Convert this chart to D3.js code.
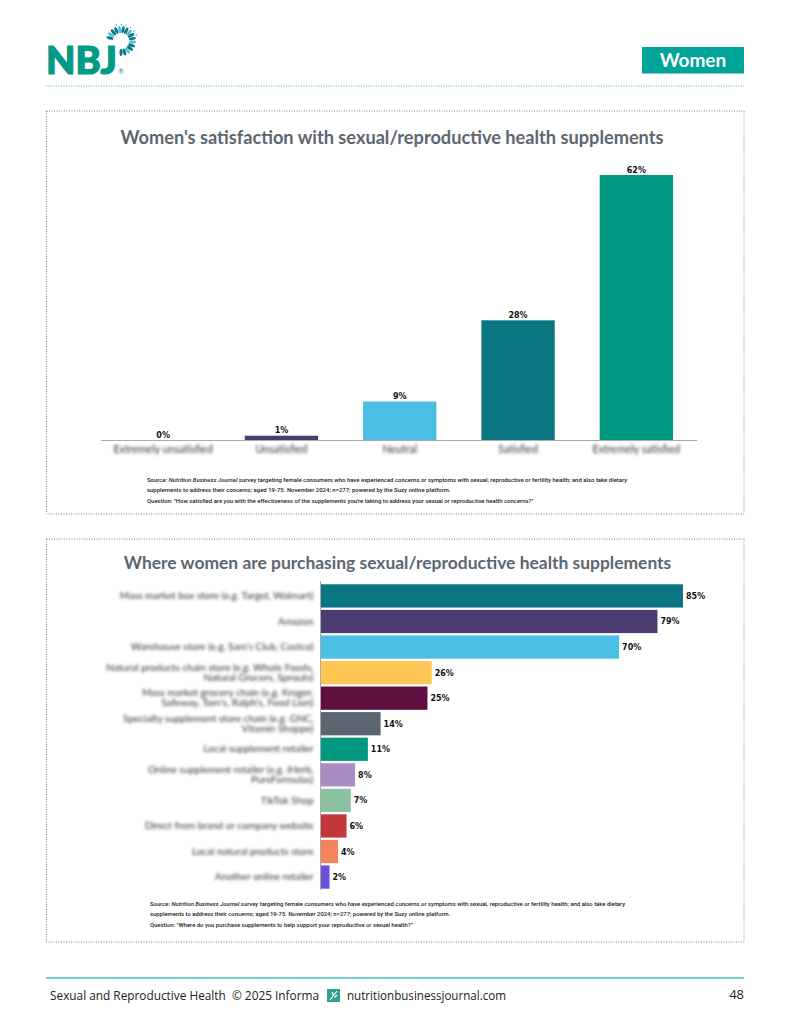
<!DOCTYPE html>
<html>
<head>
<meta charset="utf-8">
<script src="https://cdn.jsdelivr.net/npm/d3@7"></script>
<style>
html, body { margin: 0; padding: 0; background: #fff; }
svg { display: block; }
</style>
</head>
<body>
<div id="page"></div>
<script>
const satisfactionLabels = ['Extremely unsatisfied', 'Unsatisfied', 'Neutral', 'Satisfied', 'Extremely satisfied'];
const satisfactionValues = [0, 1, 9, 28, 62];
const satisfactionColors = ['#4b3b70', '#4b3b70', '#4abfe3', '#0a7682', '#009880'];

const purchaseLabels = [
  'Mass market box store (e.g. Target, Walmart)',
  'Amazon',
  "Warehouse store (e.g. Sam's Club, Costco)",
  'Natural products chain store (e.g. Whole Foods,|Natural Grocers, Sprouts)',
  "Mass market grocery chain (e.g. Kroger,|Safeway, Tom's, Ralph's, Food Lion)",
  'Specialty supplement store chain (e.g. GNC,|Vitamin Shoppe)',
  'Local supplement retailer',
  'Online supplement retailer (e.g. iHerb,|PureFormulas)',
  'TikTok Shop',
  'Direct from brand or company website',
  'Local natural products store',
  'Another online retailer'
];
const purchaseValues = [85, 79, 70, 26, 25, 14, 11, 8, 7, 6, 4, 2];
const purchaseColors = ['#0a7682', '#4b3b70', '#4abfe3', '#fec655', '#5e0f3d', '#5c6670', '#009880', '#a98cc2', '#8cc1a2', '#c2373c', '#f4845c', '#6a4fd8'];

const sourceTop = [
  ['Source: ', 'Nutrition Business Journal', ' survey targeting female consumers who have experienced concerns or symptoms with sexual, reproductive or fertility health; and also take dietary'],
  ['supplements to address their concerns; aged 19-75. November 2024; n=277; powered by the Suzy online platform.'],
  ['Question: "How satisfied are you with the effectiveness of the supplements you\'re taking to address your sexual or reproductive health concerns?"']
];
const sourceBottom = [
  ['Source: ', 'Nutrition Business Journal', ' survey targeting female consumers who have experienced concerns or symptoms with sexual, reproductive or fertility health; and also take dietary'],
  ['supplements to address their concerns; aged 19-75. November 2024; n=277; powered by the Suzy online platform.'],
  ['Question: "Where do you purchase supplements to help support your reproductive or sexual health?"']
];

const svg = d3.select('#page').append('svg').attr('width', 791).attr('height', 1024);
const defs = svg.append('defs');
defs.append('filter').attr('id', 'blur').attr('x', '-10%').attr('y', '-60%').attr('width', '120%').attr('height', '220%')
  .append('feGaussianBlur').attr('stdDeviation', 1.45);

svg.append('rect').attr('width', 791).attr('height', 1024).attr('fill', '#fff');

// header
const teal = '#00a398';
svg.append('text').attr('x', 46).attr('y', 74).attr('font-family', 'Lato, sans-serif').attr('font-weight', 900)
  .attr('font-size', 38).attr('fill', '#009a86').attr('stroke', '#009a86').attr('stroke-width', 1.2)
  .attr('textLength', 71).attr('lengthAdjust', 'spacingAndGlyphs').text('NBJ');
svg.append('text').attr('x', 118).attr('y', 74).attr('font-family', 'Lato, sans-serif').attr('font-size', 7).attr('fill', '#009a86').text('®');

// logo burst, petals around a ring
const burst = svg.append('g').attr('transform', 'translate(121,41)');
d3.range(-75, 185, 17).forEach((a, i) => {
  burst.append('ellipse')
    .attr('cx', 0).attr('cy', -11.5).attr('rx', 1.5).attr('ry', 3.6)
    .attr('transform', `rotate(${a})`)
    .attr('fill', i % 3 == 1 ? '#4abfe3' : '#0a7682');
  if (i > 2 && i < 9) {
    burst.append('ellipse')
      .attr('cx', 0).attr('cy', -16.5).attr('rx', 0.6).attr('ry', 1.1)
      .attr('transform', `rotate(${a + 8})`)
      .attr('fill', '#4abfe3');
  }
});

svg.append('rect').attr('x', 642).attr('y', 47).attr('width', 102).attr('height', 26.5).attr('fill', teal);
svg.append('text').attr('x', 693).attr('y', 66.5).attr('text-anchor', 'middle').attr('font-family', 'Lato, sans-serif')
  .attr('font-weight', 700).attr('font-size', 19).attr('fill', '#fff').text('Women');
svg.append('line').attr('x1', 46).attr('x2', 744).attr('y1', 86).attr('y2', 86)
  .attr('stroke', '#3cc4b0').attr('stroke-width', 1).attr('stroke-dasharray', '1,1.5');

function panel(y, h) {
  svg.append('rect').attr('x', 46.5).attr('y', y).attr('width', 697.5).attr('height', h)
    .attr('fill', 'none').attr('stroke', '#666').attr('stroke-width', 0.8).attr('stroke-dasharray', '1,1.5');
}
function title(text, cx, y, size) {
  svg.append('text').attr('x', cx).attr('y', y).attr('text-anchor', 'middle').attr('font-family', 'Lato, sans-serif')
    .attr('font-weight', 700).attr('font-size', size).attr('fill', '#5c6670').text(text);
}
function source(lines, x, y, size) {
  lines.forEach((parts, i) => {
    const t = svg.append('text').attr('x', x).attr('y', y + i * 10.4).attr('font-family', 'Roboto, sans-serif')
      .attr('font-size', size).attr('font-weight', 500).attr('fill', '#222');
    parts.forEach((p, j) => {
      t.append('tspan').attr('font-style', parts.length > 1 && j == 1 ? 'italic' : 'normal').text(p);
    });
  });
}
function valueLabel(sel) {
  sel.attr('font-family', 'DejaVu Sans, sans-serif').attr('font-weight', 700).attr('font-size', 8).attr('fill', '#111');
}

// top chart
panel(111, 403);
title("Women's satisfaction with sexual/reproductive health supplements", 392, 144, 18.2);
const x1 = d3.scaleBand().domain(satisfactionLabels).range([104, 695.5]).padding(0.38).paddingOuter(0.19);
const y1 = d3.scaleLinear().domain([0, 62]).range([440, 175]);

svg.selectAll('.satisfaction').data(satisfactionValues).enter().append('rect')
  .attr('x', (d, i) => x1(satisfactionLabels[i]))
  .attr('y', d => y1(d))
  .attr('width', x1.bandwidth())
  .attr('height', d => y1(0) - y1(d))
  .attr('fill', (d, i) => satisfactionColors[i]);

const axis1 = svg.append('g').attr('transform', 'translate(0,440)').call(d3.axisBottom(x1).tickSize(0).tickPadding(5));
axis1.select('.domain').attr('d', 'M101,0.5H697').attr('stroke', '#aaa').attr('stroke-width', 1);
axis1.selectAll('text').attr('font-family', 'Lato, sans-serif').attr('font-size', 10.6).attr('fill', '#333')
  .attr('filter', 'url(#blur)');

svg.selectAll('.satisfactionValue').data(satisfactionValues).enter().append('text')
  .attr('x', (d, i) => x1(satisfactionLabels[i]) + x1.bandwidth() / 2)
  .attr('y', d => y1(d) - 2.5)
  .attr('text-anchor', 'middle')
  .call(valueLabel)
  .text(d => d + '%');
source(sourceTop, 147, 482, 5.96);

// bottom chart
panel(539, 403);
title('Where women are purchasing sexual/reproductive health supplements', 397.5, 569, 17.45);
const x2 = d3.scaleLinear().domain([0, 85]).range([321, 683]);
const y2 = d3.scaleBand().domain(purchaseLabels).range([582, 891]).padding(0.09);

svg.selectAll('.purchase').data(purchaseValues).enter().append('rect')
  .attr('x', x2(0))
  .attr('y', (d, i) => y2(purchaseLabels[i]))
  .attr('width', d => x2(d) - x2(0))
  .attr('height', y2.bandwidth())
  .attr('fill', (d, i) => purchaseColors[i]);

const axis2 = svg.append('g').attr('transform', 'translate(320.5,0)').call(d3.axisLeft(y2).tickSize(0).tickPadding(7));
axis2.select('.domain').attr('d', 'M0,581V890').attr('stroke', '#aaa').attr('stroke-width', 1);
axis2.selectAll('text').each(function (d) {
  const t = d3.select(this).text(null);
  const parts = d.split('|');
  parts.forEach((p, i) => {
    t.append('tspan').attr('x', -7).attr('dy', i == 0 ? (parts.length == 1 ? '0.32em' : '-0.2em') : '1em').text(p);
  });
}).attr('dy', null).attr('font-family', 'Lato, sans-serif').attr('font-size', 10).attr('fill', '#333')
  .attr('filter', 'url(#blur)');

svg.selectAll('.purchaseValue').data(purchaseValues).enter().append('text')
  .attr('x', d => x2(d) + 3)
  .attr('y', (d, i) => y2(purchaseLabels[i]) + y2.bandwidth() / 2 + 3)
  .call(valueLabel)
  .text(d => d + '%');
source(sourceBottom, 150, 906, 5.9);

// footer
svg.append('line').attr('x1', 46).attr('x2', 744).attr('y1', 978).attr('y2', 978).attr('stroke', '#3cc4b8').attr('stroke-width', 1.6);
const footerFont = 'Open Sans, sans-serif';
svg.append('text').attr('x', 50).attr('y', 1000).attr('font-family', footerFont).attr('font-size', 13).attr('fill', '#222')
  .attr('textLength', 269).attr('lengthAdjust', 'spacingAndGlyphs').attr('xml:space', 'preserve')
  .style('white-space', 'pre')
  .text('Sexual and Reproductive Health  © 2025 Informa');
svg.append('rect').attr('x', 327).attr('y', 989).attr('width', 13).attr('height', 13).attr('fill', '#2f9f8f');
svg.append('path').attr('d', 'M330,1000L337,991M332,992L333.5,996M337,995L334.5,997.5').attr('fill', 'none')
  .attr('stroke', '#fff').attr('stroke-width', 1.2);
svg.append('text').attr('x', 347).attr('y', 1000).attr('font-family', footerFont).attr('font-size', 13).attr('fill', '#222')
  .attr('textLength', 159).attr('lengthAdjust', 'spacingAndGlyphs')
  .text('nutritionbusinessjournal.com');
svg.append('text').attr('x', 744).attr('y', 999).attr('text-anchor', 'end').attr('font-family', footerFont).attr('font-size', 13).attr('fill', '#222')
  .text('48');
</script>
</body>
</html>
